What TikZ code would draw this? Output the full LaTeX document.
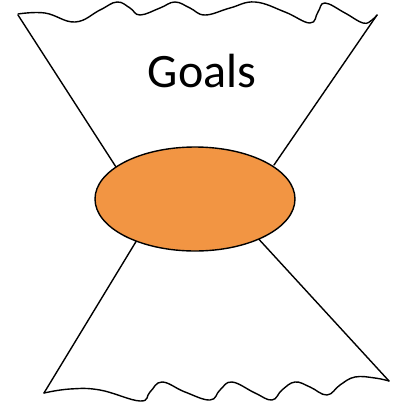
\documentclass[tikz,border=0pt]{standalone}
\usepackage{fontspec}
\setmainfont{Carlito}
\usetikzlibrary{shapes.geometric}
\definecolor{orangefill}{HTML}{F29543}
\begin{document}
\begin{tikzpicture}[x=1pt,y=-1pt,
  edge/.style={line width=1.4pt,line join=round,line cap=round},
  blob/.style={ellipse,draw,line width=1.4pt,fill=orangefill,minimum width=200pt,minimum height=104pt,inner sep=0pt}]
\useasboundingbox (0,0) rectangle (395,408);
\coordinate (tl) at (18,15);
\coordinate (tr) at (377,15);
\coordinate (bl) at (44,393);
\coordinate (br) at (389,381);
\draw[edge] plot[smooth,tension=0.7] coordinates {(18,14) (45,13) (75,22) (100,10) (117,2) (130,8) (140,15) (160,8) (175,2) (190,8) (205,15) (230,8) (255,2) (285,12) (310,23) (318,12) (325,3) (345,13) (363,23) (372,20) (377,15)};
\draw[edge] plot[smooth,tension=0.7] coordinates {(44,393) (70,389) (100,390) (140,401) (150,392) (162,382) (185,392) (210,400) (220,390) (232,382) (255,393) (272,400) (282,390) (295,382) (310,387) (327,395) (340,385) (355,377) (375,378) (389,381)};
\draw[edge] (tl) -- (116,167);
\draw[edge] (tr) -- (274,165);
\draw[edge] (bl) -- (140,235);
\draw[edge] (br) -- (255,235);
\node[blob] (core) at (195,199) {};
\node[font=\fontsize{48}{56}\selectfont,anchor=base,inner sep=0pt] (goals) at (202,87) {Goals};
\end{tikzpicture}
\end{document}
